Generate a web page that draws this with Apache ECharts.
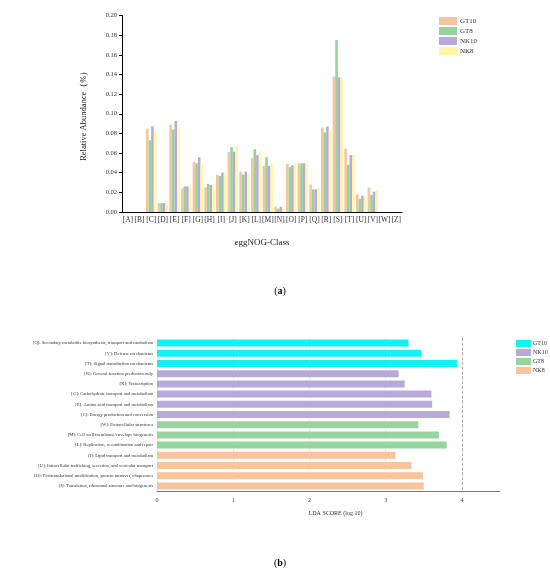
<!DOCTYPE html>
<html>
<head>
<meta charset="utf-8">
<script src="https://cdn.jsdelivr.net/npm/echarts@6/dist/echarts.min.js"></script>
<style>
  html, body { margin: 0; padding: 0; background: #fff; }
  #main { width: 550px; height: 570px; }
</style>
</head>
<body>
<div id="main"></div>
<script>
'use strict';

// (a) eggNOG 分类相对丰度
var classes = ['[A]', '[B]', '[C]', '[D]', '[E]', '[F]', '[G]', '[H]', '[I]', '[J]', '[K]', '[L]',
    '[M]', '[N]', '[O]', '[P]', '[Q]', '[R]', '[S]', '[T]', '[U]', '[V]', '[W]', '[Z]'];
var groupsA = ['GT10', 'GT8', 'NK10', 'NK8'];
var gt10 = [0, 0, 0.085, 0.009, 0.089, 0.024, 0.051, 0.025, 0.038, 0.061, 0.041, 0.055,
    0.047, 0.0054, 0.049, 0.0496, 0.028, 0.086, 0.138, 0.0645, 0.018, 0.025, 0, 0];
var gt8 = [0, 0, 0.073, 0.009, 0.084, 0.026, 0.0496, 0.0285, 0.0367, 0.066, 0.038, 0.064,
    0.0557, 0.0034, 0.0455, 0.0496, 0.023, 0.081, 0.175, 0.048, 0.0132, 0.0173, 0, 0];
var nk10 = [0, 0, 0.0873, 0.009, 0.0927, 0.026, 0.0557, 0.0275, 0.040, 0.0615, 0.041, 0.058,
    0.047, 0.0054, 0.0475, 0.0496, 0.023, 0.087, 0.137, 0.058, 0.0166, 0.0207, 0, 0];
var nk8 = [0, 0, 0.0825, 0.008, 0.086, 0.026, 0.0496, 0.027, 0.039, 0.067, 0.039, 0.0615,
    0.0496, 0.0034, 0.0496, 0.049, 0.025, 0.0835, 0.137, 0.058, 0.0156, 0.022, 0, 0];
var yTicksA = [0, 0.02, 0.04, 0.06, 0.08, 0.10, 0.12, 0.14, 0.16, 0.18, 0.20];

// (b) LEfSe LDA 分值
var features = [
    '[Q]: Secondary metabolite biosynthesis, transport and catabolism',
    '[V]: Defense mechanisms',
    '[T]: Signal transduction mechanisms',
    '[R]: General function prediction only',
    '[K]: Transcription',
    '[G]: Carbohydrate transport and metabolism',
    '[E]: Amino acid transport and metabolism',
    '[C]: Energy production and conversion',
    '[W]: Extracellular structures',
    '[M]: Cell wall/membrane/envelope biogenesis',
    '[L]: Replication, recombination and repair',
    '[I]: Lipid transport and metabolism',
    '[U]: Intracellular trafficking, secretion, and vesicular transport',
    '[O]: Posttranslational modification, protein turnover, chaperones',
    '[J]: Translation, ribosomal structure and biogenesis'
];
var featureGroup = ['GT10', 'GT10', 'GT10', 'NK10', 'NK10', 'NK10', 'NK10', 'NK10',
    'GT8', 'GT8', 'GT8', 'NK8', 'NK8', 'NK8', 'NK8'];
var ldaScore = [3.30, 3.47, 3.94, 3.17, 3.25, 3.60, 3.61, 3.84, 3.43, 3.70, 3.80, 3.13, 3.34, 3.49, 3.50];
var groupsB = ['GT10', 'NK10', 'GT8', 'NK8'];

var colorsA = { GT10: '#F8C49C', GT8: '#93D39C', NK10: '#B7A9D8', NK8: '#FFF6A6' };
var colorsB = { GT10: '#12F2F2', NK10: '#B9A9D9', GT8: '#97D59E', NK8: '#F8C49C' };
var valuesA = { GT10: gt10, GT8: gt8, NK10: nk10, NK8: nk8 };

var serif = '"Liberation Serif", "DejaVu Serif", serif';

var seriesA = groupsA.map(function (g) {
    return {
        name: g,
        type: 'bar',
        xAxisIndex: 0,
        yAxisIndex: 0,
        barWidth: 2.6,
        barGap: '0%',
        itemStyle: { color: colorsA[g] },
        data: valuesA[g]
    };
});

var seriesB = groupsB.map(function (g) {
    return {
        name: g,
        type: 'bar',
        xAxisIndex: 1,
        yAxisIndex: 1,
        stack: 'lda',
        barWidth: 7,
        itemStyle: { color: colorsB[g] },
        data: ldaScore.map(function (v, i) { return featureGroup[i] === g ? v : '-'; })
    };
});

var myChart = echarts.init(document.getElementById('main'));
var option = {
    backgroundColor: '#fff',
    animation: false,
    textStyle: { fontFamily: serif },
    title: [
        {
            text: '({a|a})', left: 275, top: 281, textAlign: 'center',
            textStyle: { fontSize: 10, fontWeight: 'normal', color: '#000', fontFamily: serif,
                rich: { a: { fontSize: 10, fontWeight: 'bold', color: '#000', fontFamily: serif } } }
        },
        {
            text: '({a|b})', left: 275, top: 553, textAlign: 'center',
            textStyle: { fontSize: 10, fontWeight: 'normal', color: '#000', fontFamily: serif,
                rich: { a: { fontSize: 10, fontWeight: 'bold', color: '#000', fontFamily: serif } } }
        }
    ],
    legend: [
        {
            data: groupsA.map(function (g) { return { name: g, itemStyle: { color: colorsA[g] } }; }),
            orient: 'vertical', left: 434, top: 12,
            itemWidth: 18, itemHeight: 8, itemGap: 2, icon: 'rect',
            textStyle: { fontSize: 7, color: '#333', fontFamily: serif, padding: [0, 0, 0, -2] }
        },
        {
            data: groupsB.map(function (g) { return { name: g, itemStyle: { color: colorsB[g] } }; }),
            orient: 'vertical', left: 511, top: 335,
            itemWidth: 15, itemHeight: 7, itemGap: 2, icon: 'rect',
            textStyle: { fontSize: 6, color: '#333', fontFamily: serif, padding: [0, 0, 0, -3] }
        }
    ],
    grid: [
        { left: 122, top: 15.5, width: 280, height: 196.5 },
        { left: 157, top: 338, width: 343, height: 153 }
    ],
    xAxis: [
        {
            gridIndex: 0,
            type: 'category',
            data: classes,
            name: 'eggNOG-Class',
            nameLocation: 'middle',
            nameGap: 26,
            nameTextStyle: { fontSize: 9, color: '#222', fontFamily: serif },
            axisLine: { lineStyle: { color: '#000', width: 1 } },
            axisTick: { show: false },
            axisLabel: { interval: 0, fontSize: 7.5, color: '#333', margin: 4, fontFamily: serif }
        },
        {
            gridIndex: 1,
            type: 'value',
            min: 0,
            max: 4.5,
            interval: 1,
            name: 'LDA SCORE (log 10)',
            nameLocation: 'middle',
            nameGap: 19,
            nameTextStyle: { fontSize: 6, color: '#333', fontFamily: serif, padding: [0, 0, 0, 14] },
            axisLine: { show: true, lineStyle: { color: '#555', width: 0.8 } },
            axisTick: { show: false },
            axisLabel: { fontSize: 6, color: '#333', margin: 6, fontFamily: serif,
                showMaxLabel: false },
            splitLine: {
                show: true,
                lineStyle: { type: 'dashed', width: 0.8,
                    color: ['#ffffff', '#e2e2e2', '#e2e2e2', '#e2e2e2', '#9a9a9a', '#ffffff'] }
            }
        }
    ],
    yAxis: [
        {
            gridIndex: 0,
            type: 'value',
            min: yTicksA[0],
            max: yTicksA[yTicksA.length - 1],
            interval: yTicksA[1] - yTicksA[0],
            name: 'Relative Abundance（%）',
            nameLocation: 'middle',
            nameGap: 34,
            nameTextStyle: { fontSize: 8.5, color: '#222', fontFamily: serif },
            axisLine: { show: true, lineStyle: { color: '#000', width: 1 } },
            axisTick: { show: true, length: 3, lineStyle: { color: '#000' } },
            axisLabel: { fontSize: 6.5, color: '#333', margin: 5, fontFamily: serif,
                formatter: function (v) { return v.toFixed(2); } },
            splitLine: { show: false }
        },
        {
            gridIndex: 1,
            type: 'category',
            data: features,
            inverse: true,
            axisLine: { show: true, lineStyle: { color: '#e6e6e6', width: 0.8 } },
            axisTick: { show: false },
            axisLabel: { interval: 0, fontSize: 4.6, color: '#333', margin: 4, fontFamily: serif },
            splitLine: { show: false }
        }
    ],
    series: seriesA.concat(seriesB)
};
myChart.setOption(option);
</script>
</body>
</html>
